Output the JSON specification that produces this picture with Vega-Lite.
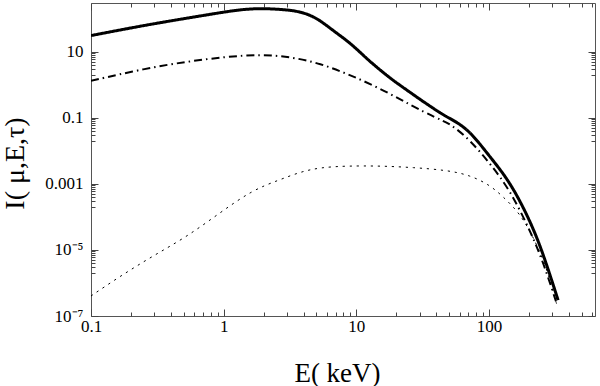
{
  "$schema": "https://vega.github.io/schema/vega-lite/v6.json",
  "width": 504,
  "height": 313,
  "autosize": {"type": "none"},
  "padding": {"left": 91, "top": 3, "right": 5, "bottom": 70},
  "background": "white",
  "config": {
    "view": {"stroke": "#555", "strokeWidth": 1}
  },
  "data": {
    "values": [
      {"s": "A", "E": 0.1, "I": 31},
      {"s": "A", "E": 0.258, "I": 64.4},
      {"s": "A", "E": 0.518, "I": 102.8},
      {"s": "A", "E": 1.032, "I": 162.9},
      {"s": "A", "E": 1.459, "I": 196.8},
      {"s": "A", "E": 2.065, "I": 206.5},
      {"s": "A", "E": 3.184, "I": 183.7},
      {"s": "A", "E": 3.784, "I": 159.6},
      {"s": "A", "E": 4.498, "I": 129.4},
      {"s": "A", "E": 5.36, "I": 86.9},
      {"s": "A", "E": 6.368, "I": 51.2},
      {"s": "A", "E": 7.58, "I": 30.5},
      {"s": "A", "E": 9.016, "I": 18.0},
      {"s": "A", "E": 10.7, "I": 9.6},
      {"s": "A", "E": 12.74, "I": 4.98},
      {"s": "A", "E": 17.99, "I": 1.563},
      {"s": "A", "E": 25.47, "I": 0.59},
      {"s": "A", "E": 30.27, "I": 0.36},
      {"s": "A", "E": 42.85, "I": 0.14},
      {"s": "A", "E": 50.93, "I": 0.095},
      {"s": "A", "E": 60.6, "I": 0.064},
      {"s": "A", "E": 72.11, "I": 0.036},
      {"s": "A", "E": 85.7, "I": 0.016},
      {"s": "A", "E": 101.9, "I": 0.00658},
      {"s": "A", "E": 144.2, "I": 0.00115},
      {"s": "A", "E": 203.7, "I": 7.94e-5},
      {"s": "A", "E": 256.4, "I": 7.76e-6},
      {"s": "A", "E": 331.9, "I": 3.02e-7},
      {"s": "B", "E": 0.1, "I": 1.32},
      {"s": "B", "E": 0.258, "I": 3.141},
      {"s": "B", "E": 0.516, "I": 4.977},
      {"s": "B", "E": 1.032, "I": 7.047},
      {"s": "B", "E": 1.892, "I": 8.337},
      {"s": "B", "E": 3.184, "I": 7.047},
      {"s": "B", "E": 5.358, "I": 4.446},
      {"s": "B", "E": 9.016, "I": 1.968},
      {"s": "B", "E": 15.14, "I": 0.778},
      {"s": "B", "E": 25.47, "I": 0.2477},
      {"s": "B", "E": 40.46, "I": 0.0959},
      {"s": "B", "E": 50.93, "I": 0.0676},
      {"s": "B", "E": 72.11, "I": 0.02109},
      {"s": "B", "E": 101.9, "I": 0.00415},
      {"s": "B", "E": 144.2, "I": 6.44e-4},
      {"s": "B", "E": 203.7, "I": 3.95e-5},
      {"s": "B", "E": 256.4, "I": 4.33e-6},
      {"s": "B", "E": 325.1, "I": 2.26e-7},
      {"s": "C", "E": 0.1, "I": 4.04e-7},
      {"s": "C", "E": 0.1626, "I": 1.52e-6},
      {"s": "C", "E": 0.2897, "I": 6.44e-6},
      {"s": "C", "E": 0.5164, "I": 2.377e-5},
      {"s": "C", "E": 0.9183, "I": 1.25e-4},
      {"s": "C", "E": 1.637, "I": 6.44e-4},
      {"s": "C", "E": 2.6, "I": 0.001294},
      {"s": "C", "E": 3.784, "I": 0.002312},
      {"s": "C", "E": 5.346, "I": 0.003141},
      {"s": "C", "E": 8.492, "I": 0.003508},
      {"s": "C", "E": 15.14, "I": 0.003508},
      {"s": "C", "E": 26.92, "I": 0.003141},
      {"s": "C", "E": 48.08, "I": 0.0026},
      {"s": "C", "E": 71.94, "I": 0.001837},
      {"s": "C", "E": 101.9, "I": 9.14e-4},
      {"s": "C", "E": 128.2, "I": 4.04e-4},
      {"s": "C", "E": 171.4, "I": 1.268e-4},
      {"s": "C", "E": 215.8, "I": 2.477e-5},
      {"s": "C", "E": 271.6, "I": 3.05e-6},
      {"s": "C", "E": 322.8, "I": 2.38e-7}
    ]
  },
  "layer": [
    {
      "mark": {"type": "line", "interpolate": "basis", "color": "black", "clip": true},
      "encoding": {
        "x": {
          "field": "E", "type": "quantitative",
          "scale": {"type": "log", "domain": [0.1, 630], "nice": false},
          "axis": {
            "orient": "bottom", "values": [0.1, 1, 10, 100], "tickSize": -7, "tickColor": "#444", "tickWidth": 1,
            "domain": false, "grid": false,
            "labelFont": "Liberation Serif", "labelFontSize": 17, "labelColor": "black",
            "labelPadding": 9, "labelFlush": false,
            "labelExpr": "datum.value < 0.5 ? '0.1' : datum.value < 5 ? '1' : datum.value < 50 ? '10' : '100'",
            "title": "E( keV)", "titleFont": "Liberation Serif", "titleFontWeight": "normal", "titleColor": "black",
            "titleFontSize": 27, "titleX": 246, "titleY": 65, "titleBaseline": "alphabetic"
          }
        },
        "y": {
          "field": "I", "type": "quantitative",
          "scale": {"type": "log", "domain": [1e-7, 300], "nice": false},
          "axis": {
            "orient": "left", "values": [10, 0.1, 0.001, 1e-5, 1e-7], "tickSize": -7, "tickColor": "#444", "tickWidth": 1,
            "domain": false, "grid": false,
            "labelFont": "Liberation Serif", "labelFontSize": 17, "labelColor": "black",
            "labelPadding": 15, "labelFlush": false,
            "labelExpr": "datum.value > 1 ? '10' : datum.value > 0.01 ? '0.1' : datum.value > 0.0001 ? '0.001' : datum.value > 0.000001 ? '10⁻⁵' : '10⁻⁷'",
            "title": "I( μ,E,τ)", "titleFont": "Liberation Serif", "titleFontWeight": "normal", "titleColor": "black",
            "titleFontSize": 28, "titleX": -68, "titleY": 160,
            "titleAngle": -90, "titleBaseline": "alphabetic", "titleAlign": "center"
          }
        },
        "strokeDash": {
          "field": "s", "type": "nominal",
          "scale": {"domain": ["A", "B", "C"], "range": [[1, 0], [8, 4, 1.5, 4], [2.2, 4.8]]},
          "legend": null
        },
        "strokeWidth": {
          "field": "s", "type": "ordinal",
          "scale": {"domain": ["A", "B", "C"], "range": [3, 1, 1.4]},
          "legend": null
        }
      }
    },
    {
      "mark": {"type": "point", "opacity": 0},
      "encoding": {
        "x": {
          "field": "E", "type": "quantitative",
          "scale": {"type": "log", "domain": [0.1, 630], "nice": false},
          "axis": {"orient": "bottom", "values": [0.2, 0.3, 0.4, 0.5, 0.6, 0.7, 0.8, 0.9, 2, 3, 4, 5, 6, 7, 8, 9, 20, 30, 40, 50, 60, 70, 80, 90, 200, 300, 400, 500, 600], "tickSize": -4, "tickColor": "#444", "tickWidth": 1, "domain": false, "grid": false, "labels": false, "title": null}
        },
        "y": {
          "field": "I", "type": "quantitative",
          "scale": {"type": "log", "domain": [1e-7, 300], "nice": false},
          "axis": {"orient": "left", "values": [2, 3, 4, 5, 6, 7, 8, 9, 0.02, 0.03, 0.04, 0.05, 0.06, 0.07, 0.08, 0.09, 2e-4, 3e-4, 4e-4, 5e-4, 6e-4, 7e-4, 8e-4, 9e-4, 2e-6, 3e-6, 4e-6, 5e-6, 6e-6, 7e-6, 8e-6, 9e-6], "tickSize": -4, "tickColor": "#444", "tickWidth": 1, "domain": false, "grid": false, "labels": false, "title": null}
        }
      }
    },
    {
      "mark": {"type": "point", "opacity": 0},
      "encoding": {
        "x": {
          "field": "E", "type": "quantitative",
          "scale": {"type": "log", "domain": [0.1, 630], "nice": false},
          "axis": {"orient": "top", "values": [0.1, 1, 10, 100], "tickSize": -7, "tickColor": "#444", "tickWidth": 1, "domain": false, "grid": false, "labels": false, "title": null}
        },
        "y": {
          "field": "I", "type": "quantitative",
          "scale": {"type": "log", "domain": [1e-7, 300], "nice": false},
          "axis": {"orient": "right", "values": [10, 0.1, 0.001, 1e-5, 1e-7], "tickSize": -7, "tickColor": "#444", "tickWidth": 1, "domain": false, "grid": false, "labels": false, "title": null}
        }
      }
    },
    {
      "mark": {"type": "point", "opacity": 0},
      "encoding": {
        "x": {
          "field": "E", "type": "quantitative",
          "scale": {"type": "log", "domain": [0.1, 630], "nice": false},
          "axis": {"orient": "top", "values": [0.2, 0.3, 0.4, 0.5, 0.6, 0.7, 0.8, 0.9, 2, 3, 4, 5, 6, 7, 8, 9, 20, 30, 40, 50, 60, 70, 80, 90, 200, 300, 400, 500, 600], "tickSize": -4, "tickColor": "#444", "tickWidth": 1, "domain": false, "grid": false, "labels": false, "title": null}
        },
        "y": {
          "field": "I", "type": "quantitative",
          "scale": {"type": "log", "domain": [1e-7, 300], "nice": false},
          "axis": {"orient": "right", "values": [2, 3, 4, 5, 6, 7, 8, 9, 0.02, 0.03, 0.04, 0.05, 0.06, 0.07, 0.08, 0.09, 2e-4, 3e-4, 4e-4, 5e-4, 6e-4, 7e-4, 8e-4, 9e-4, 2e-6, 3e-6, 4e-6, 5e-6, 6e-6, 7e-6, 8e-6, 9e-6], "tickSize": -4, "tickColor": "#444", "tickWidth": 1, "domain": false, "grid": false, "labels": false, "title": null}
        }
      }
    }
  ],
  "resolve": {"axis": {"x": "independent", "y": "independent"}}
}
